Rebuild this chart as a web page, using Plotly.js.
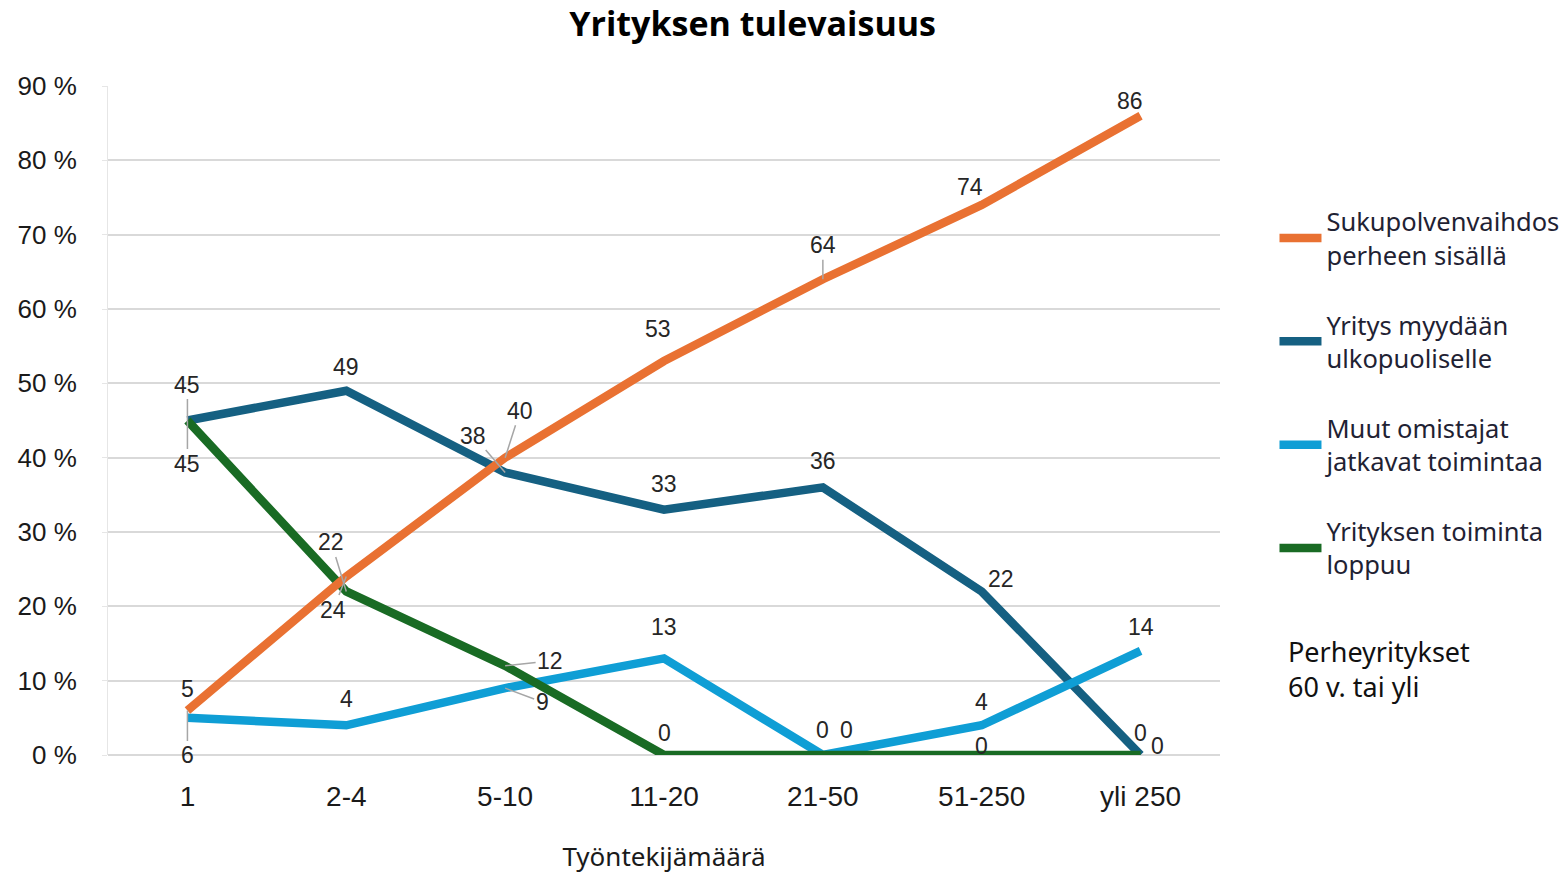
<!DOCTYPE html>
<html><head><meta charset="utf-8">
<script src="https://cdn.plot.ly/plotly-3.0.1.min.js"></script>
<style>html,body{margin:0;padding:0;background:#fff}#chart{width:1568px;height:875px}</style>
</head><body><div id="chart"></div>
<script>
// ---- data ----
const categories = ['1', '2-4', '5-10', '11-20', '21-50', '51-250', 'yli 250'];
const seriesNames = [
  'Sukupolvenvaihdos<br>perheen sisällä',
  'Yritys myydään<br>ulkopuoliselle',
  'Muut omistajat<br>jatkavat toimintaa',
  'Yrityksen toiminta<br>loppuu'
];
const sukupolvenvaihdos = [6, 24, 40, 53, 64, 74, 86];
const myydaanUlkopuoliselle = [45, 49, 38, 33, 36, 22, 0];
const muutOmistajat = [5, 4, 9, 13, 0, 4, 14];
const toimintaLoppuu = [45, 22, 12, 0, 0, 0, 0];

// ---- styles ----
const colors = ['#E97132', '#156082', '#0F9ED5', '#196B24'];
const seriesValues = [sukupolvenvaihdos, myydaanUlkopuoliselle, muutOmistajat, toimintaLoppuu];
// label placement (pixel offsets of label centre from point, leader line flag)
const labelPlacement = [
  [[0, 45, 1], [-13, 33, 1], [15, -47, 1], [-6, -32, 0], [0, -34, 1], [-12, -18, 0], [-11, -15, 0]],
  [[0, -36, 1], [0, -24, 0], [-32, -37, 1], [0, -26, 0], [0, -26, 0], [19, -12, 0], [0, -22, 0]],
  [[0, -29, 0], [0, -26, 0], [37, 14, 1], [0, -31, 0], [0, -25, 0], [0, -23, 0], [0, -24, 0]],
  [[0, 43, 1], [-15, -49, 1], [45, -5, 1], [0, -22, 0], [24, -25, 0], [0, -9, 0], [17, -9, 0]]
];
const drawOrder = [1, 2, 3, 0];

const traces = drawOrder.map(i => ({
  type: 'scatter', mode: 'lines',
  x: categories, y: seriesValues[i],
  name: seriesNames[i],
  legendrank: i + 1,
  legendgroup: 'g' + i,
  line: {color: colors[i], width: 8.5},
  hoverinfo: 'x+y+name'
}));

const annotations = [];
seriesValues.forEach((vals, s) => {
  vals.forEach((v, k) => {
    const p = labelPlacement[s][k];
    annotations.push({
      x: k, y: v, xref: 'x', yref: 'y',   // k = category index
      text: String(v),
      showarrow: true, arrowhead: 0, arrowwidth: 1.5, standoff: 0,
      arrowcolor: p[2] ? '#a6a6a6' : 'rgba(0,0,0,0)',
      ax: p[0], ay: p[1],
      font: {family: 'Liberation Sans, Arial, sans-serif', size: 23, color: '#262626'}
    });
  });
});
annotations.push({
  xref: 'paper', yref: 'paper', x: 1.059, y: 0.128, xanchor: 'left', yanchor: 'middle',
  align: 'left', showarrow: false,
  text: 'Perheyritykset<br>60 v. tai yli',
  font: {family: 'Noto Sans, sans-serif', size: 27, color: '#111111'}
});

const layout = {
  width: 1568, height: 875,
  paper_bgcolor: '#ffffff', plot_bgcolor: '#ffffff',
  margin: {l: 108, r: 348, t: 86, b: 120, autoexpand: false},
  title: {
    text: '<b>Yrityksen tulevaisuus</b>',
    x: 0.48, xref: 'container', xanchor: 'center',
    y: 0.972, yref: 'container', yanchor: 'middle',
    font: {family: 'Open Sans, Noto Sans, sans-serif', size: 34, color: '#000000'}
  },
  xaxis: {
    type: 'category', range: [-0.5, 6.5],
    showgrid: false, showline: false, zeroline: false, ticks: '',
    ticklabelstandoff: 22,
    tickfont: {family: 'Liberation Sans, Arial, sans-serif', size: 28, color: '#1a1a1a'},
    title: {text: 'Työntekijämäärä', standoff: 36,
            font: {family: 'Noto Sans, sans-serif', size: 26, color: '#1a1a1a'}}
  },
  yaxis: {
    range: [0, 90], dtick: 10, tick0: 0,
    ticksuffix: ' %',
    showgrid: true, gridcolor: '#d9d9d9', gridwidth: 2,
    zeroline: true, zerolinecolor: '#d9d9d9', zerolinewidth: 2,
    showline: true, linecolor: '#e6e6e6', linewidth: 1,
    ticks: 'outside', ticklen: 5, tickcolor: '#e6e6e6',
    ticklabelstandoff: 20,
    tickfont: {family: 'Liberation Sans, Arial, sans-serif', size: 26, color: '#1a1a1a'}
  },
  showlegend: true,
  legend: {
    x: 1.049, xanchor: 'left', y: 0.832, yanchor: 'top',
    traceorder: 'grouped', tracegroupgap: 34, itemwidth: 42,
    valign: 'middle',
    font: {family: 'Noto Sans, sans-serif', size: 25.5, color: '#1f2233'},
    bgcolor: 'rgba(0,0,0,0)'
  },
  annotations: annotations
};

Plotly.newPlot('chart', traces, layout, {displayModeBar: false, responsive: false});
</script>
</body></html>
